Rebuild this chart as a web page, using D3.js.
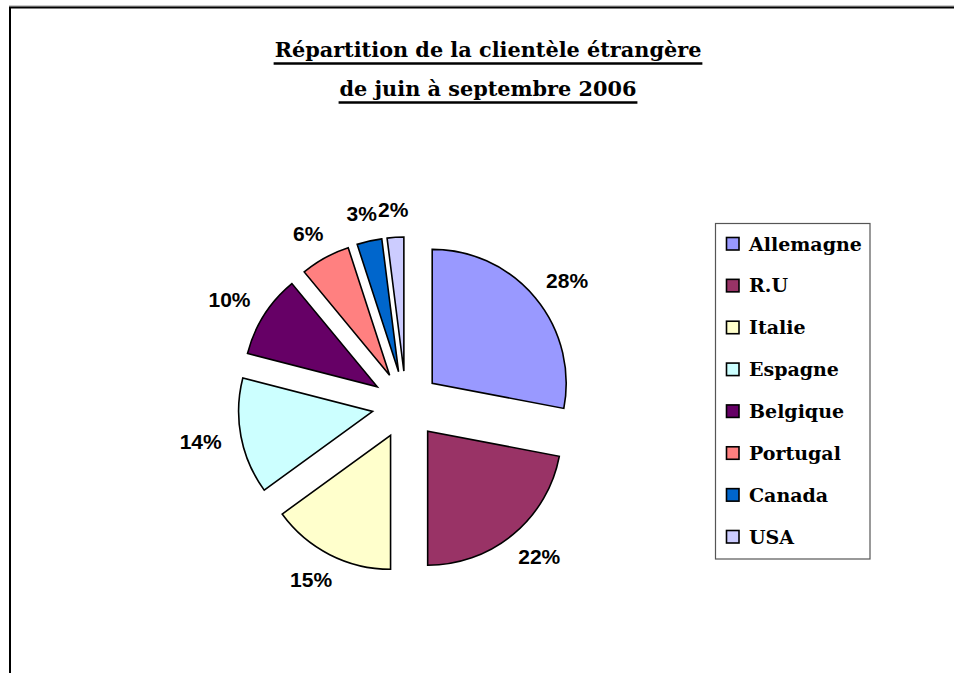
<!DOCTYPE html>
<html>
<head>
<meta charset="utf-8">
<script src="https://cdn.jsdelivr.net/npm/d3@7"></script>
<style>
html,body{margin:0;padding:0;background:#fff;}
svg{display:block;}
</style>
</head>
<body>
<script>
const categories = ["Allemagne","R.U","Italie","Espagne","Belgique","Portugal","Canada","USA"];
const values = [28,22,15,14,10,6,3,2];
const colors = ["#9999FF","#993366","#FFFFCC","#CCFFFF","#660066","#FF8080","#0066CC","#CCCCFF"];
const titleLines = ["Répartition de la clientèle étrangère","de juin à septembre 2006"];

const W = 954, H = 673;
const svg = d3.select("body").append("svg").attr("width", W).attr("height", H);
svg.append("rect").attr("width", W).attr("height", H).attr("fill", "#fff");

// frame
svg.append("line").attr("x1", 9).attr("x2", W).attr("y1", 6).attr("y2", 6).attr("stroke", "#999").attr("stroke-width", 1);
svg.append("line").attr("x1", 9).attr("x2", W).attr("y1", 7.5).attr("y2", 7.5).attr("stroke", "#000").attr("stroke-width", 2);
svg.append("line").attr("x1", 10).attr("x2", 10).attr("y1", 7).attr("y2", H).attr("stroke", "#000").attr("stroke-width", 2);

// title
const titleFont = "'DejaVu Serif', serif";
const baselines = [57, 96];
titleLines.forEach((t, i) => {
  const txt = svg.append("text")
    .attr("x", 488).attr("y", baselines[i])
    .attr("text-anchor", "middle")
    .attr("font-family", titleFont).attr("font-weight", "bold").attr("font-size", 20.8)
    .attr("fill", "#000").text(t);
  const w = txt.node().getComputedTextLength();
  svg.append("line")
    .attr("x1", 488 - w / 2 - 1).attr("x2", 488 + w / 2 + 1)
    .attr("y1", baselines[i] + 6.5).attr("y2", baselines[i] + 6.5)
    .attr("stroke", "#000").attr("stroke-width", 2.5);
});

// pie
const cx = 406, cy = 405, R = 134, explode = 34, labelR = 188;
const pie = d3.pie().sort(null).value(d => d)(values);
const arc = d3.arc().innerRadius(0).outerRadius(R);
const g = svg.append("g").attr("transform", `translate(${cx},${cy})`);
pie.forEach((p, i) => {
  const mid = (p.startAngle + p.endAngle) / 2;
  const ux = Math.sin(mid), uy = -Math.cos(mid);
  g.append("path").attr("d", arc(p))
    .attr("transform", `translate(${ux * explode},${uy * explode})`)
    .attr("fill", colors[i]).attr("stroke", "#000").attr("stroke-width", 1.6)
    .attr("stroke-linejoin", "miter");
  const lbl = g.append("text")
    .attr("text-anchor", "middle").attr("dominant-baseline", "central")
    .attr("font-family", "'Liberation Sans', Arial, sans-serif").attr("font-weight", "bold")
    .attr("font-size", 21).attr("fill", "#000")
    .text(values[i] + "%");
  const tw = lbl.node().getComputedTextLength(), th = 16;
  lbl.attr("x", ux * labelR + ux * tw / 2).attr("y", uy * labelR + uy * th / 2);
});

// legend
const lg = svg.append("g");
lg.append("rect").attr("x", 715.5).attr("y", 223.5).attr("width", 154.5).attr("height", 335.5)
  .attr("fill", "#fff").attr("stroke", "#555").attr("stroke-width", 1.2);
const rowY = d3.scalePoint().domain(categories).range([244, 537]);
categories.forEach((c, i) => {
  const y = rowY(c);
  lg.append("rect").attr("x", 726.5).attr("y", y - 6.5).attr("width", 12.5).attr("height", 12.5)
    .attr("fill", colors[i]).attr("stroke", "#000").attr("stroke-width", 1.6);
  lg.append("text").attr("x", 749).attr("y", y + 6.5)
    .attr("font-family", titleFont).attr("font-weight", "bold").attr("font-size", 19)
    .attr("fill", "#000").text(c);
});
</script>
</body>
</html>
